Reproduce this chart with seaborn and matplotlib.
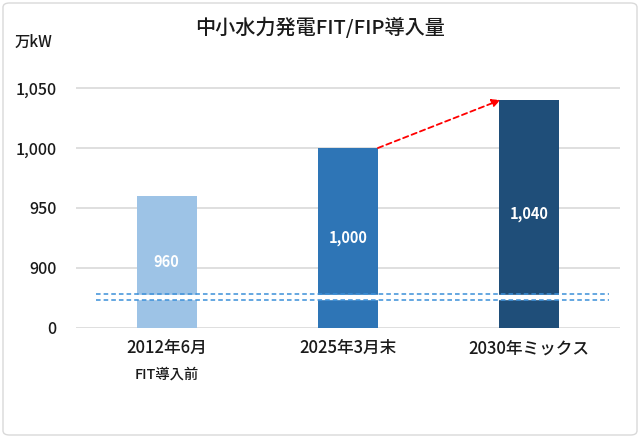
import matplotlib
matplotlib.use("Agg")
import matplotlib.pyplot as plt
import seaborn as sns
import pandas as pd
from matplotlib.patches import FancyBboxPatch

categories = ["2012年6月", "2025年3月末", "2030年ミックス"]
values = [960, 1000, 1040]
value_labels = ["960", "1,000", "1,040"]
colors = ["#9DC3E6", "#2E75B6", "#1F4E79"]
tick_values = [850, 900, 950, 1000, 1050]
tick_labels = ["0", "900", "950", "1,000", "1,050"]
sub_label = "FIT導入前"
title = "中小水力発電FIT/FIP導入量"
unit = "万kW"

sns.set_theme(style="white")
plt.rcParams['font.family'] = ['Noto Sans CJK JP', 'DejaVu Sans']
plt.rcParams['font.weight'] = 'medium'

fig = plt.figure(figsize=(6.4, 4.38), dpi=100)
ax = fig.add_axes([76/640, 1-328/438, 544/640, 258/438])

df = pd.DataFrame({"cat": categories, "val": values})
sns.barplot(data=df, x="cat", y="val", hue="cat", palette=colors, width=0.33,
            legend=False, ax=ax, saturation=1, zorder=3, linewidth=0)

ax.set_ylim(850, 1065)
ax.set_xlim(-0.5, 2.5)
ax.set_yticks(tick_values)
ax.set_yticklabels(tick_labels)
ax.set_xlabel("")
ax.set_ylabel("")
for y in tick_values:
    ax.axhline(y, color="#D9D9D9", lw=1.2, zorder=1)
for s in ax.spines.values():
    s.set_visible(False)
ax.tick_params(axis="y", length=0, pad=14, labelsize=11.5, labelcolor="#1a1a1a")
ax.tick_params(axis="x", length=0, pad=8, labelsize=12, labelcolor="#1a1a1a")

# value labels
for i, (v, lab) in enumerate(zip(values, value_labels)):
    ax.text(i, (850 + v) / 2, lab, ha="center", va="center", color="white",
            fontsize=10.5, fontweight="bold", zorder=5)

# axis break
ax.axhspan(874.2, 877.2, xmin=0.0, xmax=1.0, color="white", zorder=4)
for yb in (873.2, 878.2):
    ax.plot([-0.39, 2.44], [yb, yb], ls=(0, (3, 2)), color="#3A8FD9", lw=1.1, zorder=6)

# red dashed arrow
ax.annotate("", xy=(2 - 0.16, values[2]), xytext=(1 + 0.165, values[1]),
            arrowprops=dict(arrowstyle="-|>", color="#FF0000", lw=1.3,
                            linestyle=(0, (3, 2)), mutation_scale=12,
                            shrinkA=0, shrinkB=0), zorder=7)

ax.text(0, -0.18, sub_label, transform=ax.get_xaxis_transform(), ha="center",
        va="center", fontsize=10.3, color="#1a1a1a")

fig.text(0.5, 1 - 27/438, title, ha="center", va="center", fontsize=14.5, color="#1a1a1a")
fig.text(15/640, 1 - 42/438, unit, ha="left", va="center", fontsize=11, color="#1a1a1a")

border = FancyBboxPatch((3/640, 3/438), 634/640, 432/438, boxstyle="round,pad=0,rounding_size=0.01",
                        transform=fig.transFigure, fill=False, edgecolor="#D9D9D9", lw=1)
fig.patches.append(border)

fig.savefig("out.png", dpi=100)
